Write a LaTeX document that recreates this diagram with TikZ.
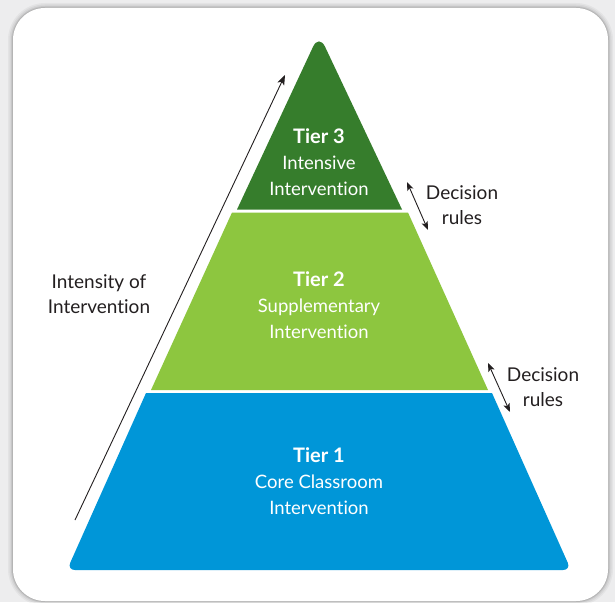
\documentclass[tikz,border=0pt]{standalone}
\usepackage{fontspec}
\setmainfont[Ligatures={NoCommon,NoContextual}]{Lato}
\usetikzlibrary{arrows.meta}
\definecolor{pagebg}{HTML}{EDEDEE}
\definecolor{tierthree}{HTML}{367D2C}
\definecolor{tiertwo}{HTML}{8DC63F}
\definecolor{tierone}{HTML}{0096D8}
\definecolor{ink}{HTML}{231F20}
\newcommand{\tiername}[1]{{\fontsize{20}{26}\selectfont\bfseries #1}}
\tikzset{
  tierlabel/.style={text=white, align=center, font=\fontsize{18.5}{26}\selectfont, inner sep=0pt},
  sidelabel/.style={text=ink, align=center, font=\fontsize{19}{25}\selectfont, inner sep=0pt},
  onearrow/.style={draw=ink, line width=0.9pt, -{Stealth[length=10pt,width=7.5pt,inset=2.5pt]}},
  twoarrow/.style={draw=ink, line width=0.9pt, {Stealth[length=8.5pt,width=6.5pt,inset=2pt]}-{Stealth[length=8.5pt,width=6.5pt,inset=2pt]}}
}
\begin{document}
\begin{tikzpicture}[x=1pt,y=-1pt]
  \useasboundingbox (0,0) rectangle (615,602);
  % page and card with a soft shadow
  \fill[pagebg] (0,0) rectangle (615,602);
  \foreach \w/\o in {10/0.04,7/0.05,4/0.07,2/0.09}
    \draw[line width=\w pt, black, opacity=\o, rounded corners=32pt] (13,8) rectangle (608,601);
  \fill[white, rounded corners=32pt] (13,8) rectangle (608,601);

  % the three tiers of the pyramid
  \fill[tierthree] (237,209.5) [rounded corners=14pt] -- (319,34) [sharp corners] -- (402,209.5) -- cycle;
  \fill[tiertwo] (232,212.5) -- (408,212.5) -- (488,390) -- (151,390) -- cycle;
  \fill[tierone] (146,393) -- (492,393) [rounded corners=8pt] -- (571,570) -- (67,570) [sharp corners] -- cycle;

  % tier texts
  \node[tierlabel] (t3) at (319,162) {\tiername{Tier 3}\\Intensive\\Intervention};
  \node[tierlabel] (t2) at (319,305) {\tiername{Tier 2}\\Supplementary\\Intervention};
  \node[tierlabel] (t1) at (319,481) {\tiername{Tier 1}\\Core Classroom\\Intervention};

  % intensity arrow along the left side
  \coordinate (ilow) at (75,520);
  \coordinate (ihigh) at (285,75);
  \draw[onearrow] (ilow) -- (ihigh);
  \node[sidelabel] (intensity) at (99,294) {Intensity of\\Intervention};

  % decision rules between the tiers
  \coordinate (d1a) at (407,182);
  \coordinate (d1b) at (428,230);
  \draw[twoarrow] (d1a) -- (d1b);
  \node[sidelabel] (dec1) at (462,205) {Decision\\rules};

  \coordinate (d2a) at (488,363);
  \coordinate (d2b) at (510,412);
  \draw[twoarrow] (d2a) -- (d2b);
  \node[sidelabel] (dec2) at (543,387) {Decision\\rules};
\end{tikzpicture}
\end{document}
